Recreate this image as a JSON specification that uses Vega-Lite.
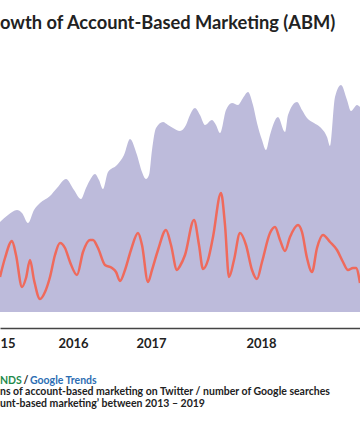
{
  "$schema": "https://vega.github.io/schema/vega-lite/v6.json",
  "width": 360,
  "height": 252,
  "autosize": {"type": "none"},
  "padding": {"left": 0, "top": 60, "right": 0, "bottom": 124},
  "background": "white",
  "title": {
    "text": "owth of Account-Based Marketing (ABM)",
    "anchor": "start",
    "frame": "group",
    "font": "Lato",
    "fontSize": 18.3,
    "fontWeight": "bold",
    "color": "#222222",
    "offset": 27
  },
  "config": {"view": {"stroke": null}},
  "datasets": {
    "searches": [
      {"t": 0, "v": 90}, {"t": 8, "v": 97}, {"t": 17, "v": 102}, {"t": 22, "v": 99}, {"t": 28, "v": 89},
      {"t": 34, "v": 102}, {"t": 40, "v": 109}, {"t": 50, "v": 116}, {"t": 57, "v": 124}, {"t": 66, "v": 133},
      {"t": 74, "v": 122}, {"t": 81, "v": 113}, {"t": 86, "v": 124}, {"t": 90, "v": 132}, {"t": 95, "v": 138},
      {"t": 99, "v": 132}, {"t": 103, "v": 123}, {"t": 108, "v": 140}, {"t": 117, "v": 147}, {"t": 124, "v": 157},
      {"t": 130, "v": 173}, {"t": 137, "v": 157}, {"t": 142, "v": 140}, {"t": 146, "v": 133}, {"t": 149, "v": 137},
      {"t": 152, "v": 162}, {"t": 156, "v": 184}, {"t": 163, "v": 190}, {"t": 168, "v": 187}, {"t": 173, "v": 184},
      {"t": 180, "v": 181}, {"t": 186, "v": 187}, {"t": 190, "v": 197}, {"t": 195, "v": 204}, {"t": 200, "v": 197},
      {"t": 205, "v": 187}, {"t": 212, "v": 192}, {"t": 216, "v": 187}, {"t": 220, "v": 179}, {"t": 226, "v": 202},
      {"t": 232, "v": 209}, {"t": 238, "v": 207}, {"t": 243, "v": 214}, {"t": 248, "v": 220}, {"t": 253, "v": 207},
      {"t": 257, "v": 189}, {"t": 262, "v": 172}, {"t": 266, "v": 162}, {"t": 270, "v": 177}, {"t": 278, "v": 195},
      {"t": 285, "v": 180}, {"t": 288, "v": 197}, {"t": 297, "v": 210}, {"t": 302, "v": 202}, {"t": 307, "v": 194},
      {"t": 314, "v": 189}, {"t": 320, "v": 185}, {"t": 327, "v": 175}, {"t": 330, "v": 166}, {"t": 335, "v": 215},
      {"t": 341, "v": 227}, {"t": 347, "v": 212}, {"t": 351, "v": 201}, {"t": 357, "v": 207}, {"t": 360, "v": 205}
    ],
    "mentions": [
      {"t": 0, "v": 35}, {"t": 5, "v": 54}, {"t": 12, "v": 71}, {"t": 16, "v": 57}, {"t": 22, "v": 25},
      {"t": 26, "v": 34}, {"t": 30, "v": 52}, {"t": 34, "v": 32}, {"t": 40, "v": 13}, {"t": 45, "v": 20},
      {"t": 50, "v": 35}, {"t": 55, "v": 57}, {"t": 60, "v": 69}, {"t": 65, "v": 64}, {"t": 70, "v": 50},
      {"t": 77, "v": 37}, {"t": 83, "v": 60}, {"t": 90, "v": 72}, {"t": 93, "v": 72}, {"t": 98, "v": 64},
      {"t": 105, "v": 47}, {"t": 112, "v": 44}, {"t": 116, "v": 40}, {"t": 120, "v": 31}, {"t": 125, "v": 42},
      {"t": 131, "v": 62}, {"t": 138, "v": 79}, {"t": 142, "v": 67}, {"t": 148, "v": 30}, {"t": 152, "v": 42},
      {"t": 158, "v": 62}, {"t": 166, "v": 82}, {"t": 171, "v": 67}, {"t": 177, "v": 42}, {"t": 180, "v": 46},
      {"t": 185, "v": 57}, {"t": 194, "v": 92}, {"t": 199, "v": 67}, {"t": 203, "v": 43}, {"t": 208, "v": 52},
      {"t": 213, "v": 75}, {"t": 221, "v": 119}, {"t": 225, "v": 87}, {"t": 229, "v": 35}, {"t": 234, "v": 52},
      {"t": 240, "v": 79}, {"t": 246, "v": 67}, {"t": 252, "v": 42}, {"t": 257, "v": 33}, {"t": 262, "v": 50},
      {"t": 270, "v": 79}, {"t": 275, "v": 85}, {"t": 280, "v": 72}, {"t": 285, "v": 61}, {"t": 290, "v": 75},
      {"t": 298, "v": 87}, {"t": 302, "v": 80}, {"t": 307, "v": 54}, {"t": 312, "v": 40}, {"t": 317, "v": 64},
      {"t": 323, "v": 77}, {"t": 330, "v": 70}, {"t": 337, "v": 62}, {"t": 343, "v": 50}, {"t": 348, "v": 42},
      {"t": 353, "v": 44}, {"t": 356, "v": 44}, {"t": 360, "v": 29}
    ]
  },
  "layer": [
    {
      "data": {"name": "searches"},
      "mark": {"type": "area", "interpolate": "monotone", "color": "#bdbbdb"},
      "encoding": {
        "x": {
          "field": "t",
          "type": "quantitative",
          "scale": {"domain": [0, 360], "nice": false, "zero": false},
          "axis": {
            "values": [0, 73, 151, 261],
            "labelExpr": "datum.value == 0 ? '15' : datum.value == 73 ? '2016' : datum.value == 151 ? '2017' : '2018'",
            "labelAlign": {"condition": {"test": "datum.value == 0", "value": "left"}, "value": "center"},
            "title": null,
            "grid": false,
            "ticks": false,
            "domainColor": "#444444",
            "domainWidth": 1.5,
            "offset": 16,
            "labelFont": "Lato",
            "labelFontSize": 13,
            "labelFontWeight": "bold",
            "labelColor": "#222222",
            "labelPadding": 9,
            "labelFlush": false,
            "labelOverlap": false
          }
        },
        "y": {
          "field": "v",
          "type": "quantitative",
          "scale": {"domain": [0, 252], "nice": false},
          "axis": null
        }
      }
    },
    {
      "data": {"name": "mentions"},
      "mark": {"type": "line", "interpolate": "monotone", "color": "#ef6a5c", "strokeWidth": 2.5},
      "encoding": {
        "x": {"field": "t", "type": "quantitative"},
        "y": {"field": "v", "type": "quantitative"}
      }
    },
    {
      "data": {"values": [{}]},
      "mark": {"type": "text", "text": "NDS", "align": "left", "baseline": "middle", "font": "Lato", "fontSize": 10.5, "fontWeight": "bold", "color": "#1f8a4c"},
      "encoding": {"x": {"datum": 0, "type": "quantitative"}, "y": {"datum": -69, "type": "quantitative"}}
    },
    {
      "data": {"values": [{}]},
      "mark": {"type": "text", "text": "/", "align": "left", "baseline": "middle", "font": "Lato", "fontSize": 10.5, "fontWeight": "bold", "color": "#222222"},
      "encoding": {"x": {"datum": 23.5, "type": "quantitative"}, "y": {"datum": -69, "type": "quantitative"}}
    },
    {
      "data": {"values": [{}]},
      "mark": {"type": "text", "text": "Google Trends", "align": "left", "baseline": "middle", "font": "Lato", "fontSize": 10.5, "fontWeight": "bold", "color": "#2c6db3"},
      "encoding": {"x": {"datum": 30, "type": "quantitative"}, "y": {"datum": -69, "type": "quantitative"}}
    },
    {
      "data": {"values": [{}]},
      "mark": {"type": "text", "text": ["ns of account-based marketing on Twitter / number of Google searches", "unt-based marketing’ between 2013 – 2019"], "align": "left", "baseline": "top", "lineHeight": 11.5, "font": "Lato", "fontSize": 10.5, "fontWeight": "bold", "color": "#222222"},
      "encoding": {"x": {"datum": 0, "type": "quantitative"}, "y": {"datum": -75, "type": "quantitative"}}
    }
  ]
}
